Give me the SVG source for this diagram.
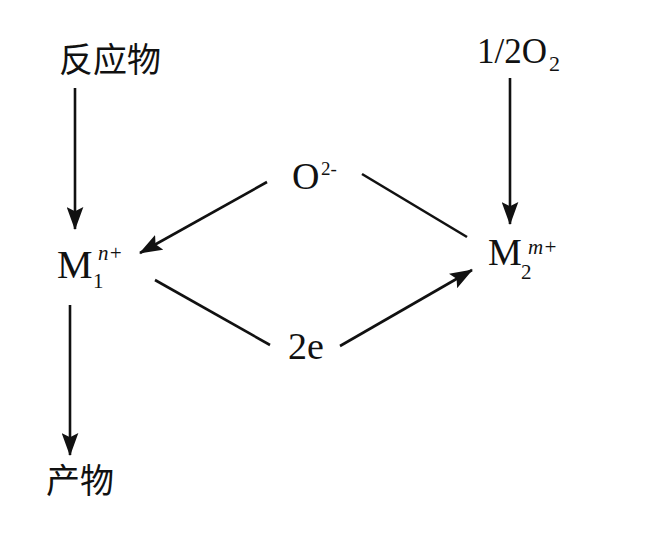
<svg xmlns="http://www.w3.org/2000/svg" width="649" height="535" viewBox="0 0 649 535">
<style>
.cn{font-family:"Noto Sans CJK SC","Noto Sans CJK JP",sans-serif;font-size:34px;fill:#111}
.t{font-family:"Liberation Serif","Times New Roman",serif;fill:#111}
.ln{stroke:#111;stroke-width:2.6;fill:none}
</style>
<defs>
<marker id="ah" viewBox="0 0 22 16" refX="21" refY="8" markerWidth="23" markerHeight="17" markerUnits="userSpaceOnUse" orient="auto">
<path d="M0,0 L22,8 L0,16 L4,8 z" fill="#111"/>
</marker>
</defs>
<rect width="649" height="535" fill="#fff"/>
<g id="reactant"><text class="cn" x="59" y="72">反应物</text></g>
<g id="o2"><text class="t" x="477" y="63" font-size="35">1/2O</text><text class="t" x="549" y="71" font-size="22">2</text></g>
<g id="m1"><text class="t" x="57" y="278" font-size="40">M</text><text class="t" x="93" y="288" font-size="21">1</text><text class="t" x="98" y="260" font-size="21" font-style="italic">n+</text></g>
<g id="oion"><text class="t" x="292" y="189" font-size="38">O</text><text class="t" x="321" y="175" font-size="19">2-</text></g>
<g id="m2"><text class="t" x="488" y="265" font-size="38">M</text><text class="t" x="521" y="279" font-size="21">2</text><text class="t" x="528" y="254" font-size="21" font-style="italic">m+</text></g>
<g id="e2"><text class="t" x="288" y="359" font-size="38">2e</text></g>
<g id="product"><text class="cn" x="46" y="493">产物</text></g>
<g id="connectors">
<line class="ln" x1="75" y1="88" x2="75" y2="229" marker-end="url(#ah)"/>
<line class="ln" x1="510" y1="78" x2="510" y2="224" marker-end="url(#ah)"/>
<line class="ln" x1="70" y1="305" x2="70" y2="455" marker-end="url(#ah)"/>
<line class="ln" x1="267" y1="182" x2="140" y2="253" marker-end="url(#ah)"/>
<line class="ln" x1="155" y1="280" x2="270" y2="345"/>
<line class="ln" x1="362" y1="174" x2="467" y2="237"/>
<line class="ln" x1="340" y1="346" x2="472" y2="270" marker-end="url(#ah)"/>
</g>
</svg>
